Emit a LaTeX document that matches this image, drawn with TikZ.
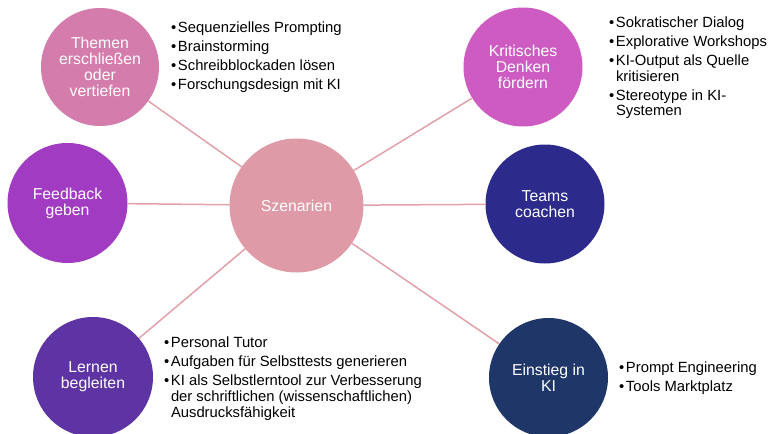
\documentclass[tikz,border=0pt]{standalone}
\usepackage{fontspec}
\setmainfont{Liberation Sans}
\definecolor{cThemen}{HTML}{D47CAB}
\definecolor{cKrit}{HTML}{CD5BC1}
\definecolor{cFeed}{HTML}{A13BC2}
\definecolor{cSzen}{HTML}{DE9AA7}
\definecolor{cTeams}{HTML}{2C2A8A}
\definecolor{cLern}{HTML}{5E33A3}
\definecolor{cEin}{HTML}{1F3669}
\definecolor{cLine}{HTML}{E2A0AA}
\newcommand\bul{\makebox[7pt][l]{\textbullet}}
\begin{document}
\begin{tikzpicture}[x=1pt,y=-1pt,
  bubble/.style={circle, inner sep=0pt, outer sep=0pt, text=white, align=center,
    font=\fontsize{15.8}{16}\selectfont},
  link/.style={draw=cLine, line width=1.5pt},
  blist/.style={anchor=base west, inner sep=0pt, outer sep=0pt,
    font=\fontsize{14.8}{16}\selectfont}]
\useasboundingbox (0,0) rectangle (769,434);

\node[bubble, fill=cSzen, minimum size=134pt] (szen) at (296.5,205.5) {Szenarien};
\node[bubble, fill=cThemen, minimum size=118pt] (themen) at (100,67) {Themen\\erschließen\\oder\\vertiefen};
\node[bubble, fill=cKrit, minimum size=119pt] (krit) at (523,67) {Kritisches\\Denken\\fördern};
\node[bubble, fill=cFeed, minimum size=120pt] (feed) at (67.5,203) {Feedback\\geben};
\node[bubble, fill=cTeams, minimum size=119pt] (teams) at (545,204) {Teams\\coachen};
\node[bubble, fill=cLern, minimum size=120pt] (lern) at (93,377) {Lernen\\begleiten};
\node[bubble, fill=cEin, minimum size=119pt] (ein) at (548.5,377.5) {Einstieg in\\KI};

\draw[link] (szen) -- (themen);
\draw[link] (szen) -- (krit);
\draw[link] (szen) -- (feed);
\draw[link] (szen) -- (teams);
\draw[link] (szen) -- (lern);
\draw[link] (szen) -- (ein);

\node[blist] (lthemen) at (171,32) {\begin{tabular}[t]{@{}l@{}l@{}}
\bul & Sequenzielles Prompting\\[3pt]
\bul & Brainstorming\\[3pt]
\bul & Schreibblockaden lösen\\[3pt]
\bul & Forschungsdesign mit KI
\end{tabular}};

\node[blist] (lkrit) at (609,27) {\begin{tabular}[t]{@{}l@{}l@{}}
\bul & Sokratischer Dialog\\[3pt]
\bul & Explorative Workshops\\[3pt]
\bul & KI-Output als Quelle\\
 & kritisieren\\[3pt]
\bul & Stereotype in KI-\\
 & Systemen
\end{tabular}};

\node[blist] (llern) at (164,347) {\begin{tabular}[t]{@{}l@{}l@{}}
\bul & Personal Tutor\\[3pt]
\bul & Aufgaben für Selbsttests generieren\\[3pt]
\bul & KI als Selbstlerntool zur Verbesserung\\
 & der schriftlichen (wissenschaftlichen)\\
 & Ausdrucksfähigkeit
\end{tabular}};

\node[blist] (lein) at (619,372) {\begin{tabular}[t]{@{}l@{}l@{}}
\bul & Prompt Engineering\\[3pt]
\bul & Tools Marktplatz
\end{tabular}};
\end{tikzpicture}
\end{document}
